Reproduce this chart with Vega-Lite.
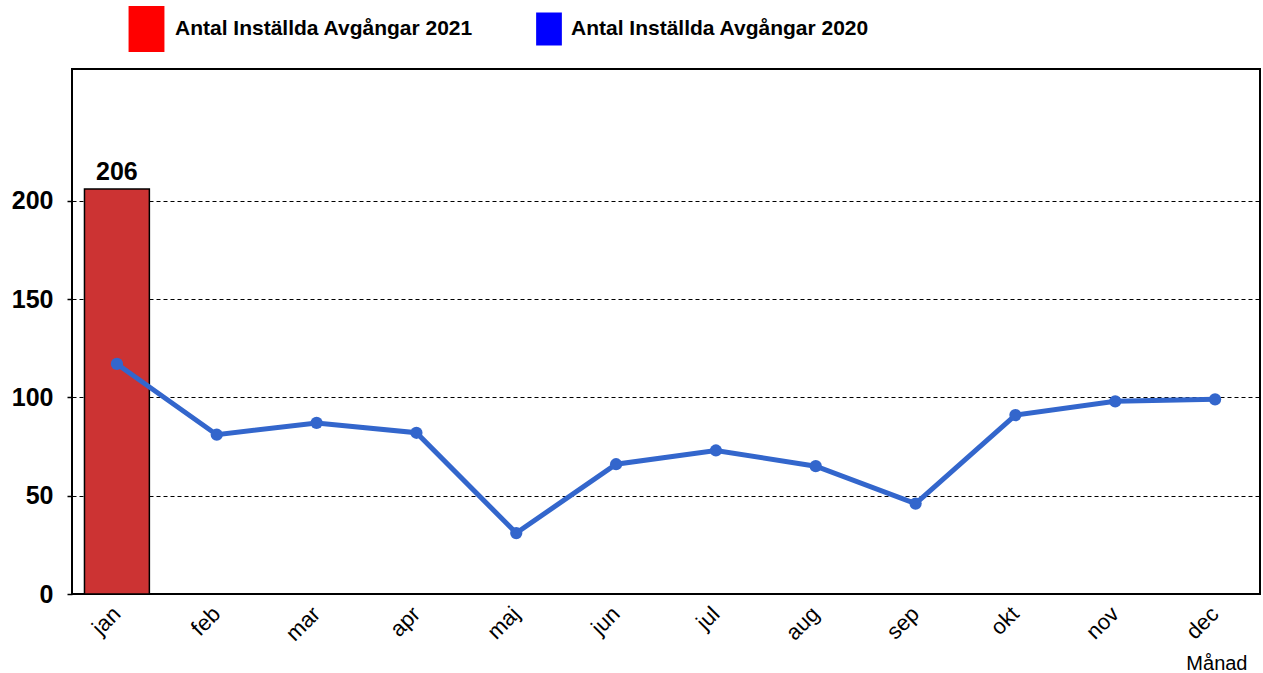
{
  "$schema": "https://vega.github.io/schema/vega-lite/v6.json",
  "width": 1188,
  "height": 525,
  "autosize": {"type": "none"},
  "padding": {"left": 72, "top": 69, "right": 3, "bottom": 79},
  "background": "white",
  "config": {
    "view": {"stroke": "black", "strokeWidth": 2},
    "font": "Liberation Sans",
    "legend": {
      "orient": "none",
      "legendX": 51.5,
      "legendY": -63,
      "direction": "horizontal",
      "padding": 0,
      "symbolType": "M-0.78,-1H0.78V1H-0.78Z",
      "symbolStrokeWidth": 0,
      "symbolOpacity": 1,
      "labelFont": "Liberation Sans",
      "labelFontSize": 21,
      "labelFontWeight": "bold",
      "labelColor": "black",
      "labelOffset": 5.5,
      "labelLimit": 500,
      "columnPadding": 59
    }
  },
  "data": {
    "values": [
      {"month": "jan", "serie": "Antal Inställda Avgångar 2021", "v": 206},
      {"month": "jan", "serie": "Antal Inställda Avgångar 2020", "v": 117},
      {"month": "feb", "serie": "Antal Inställda Avgångar 2020", "v": 81},
      {"month": "mar", "serie": "Antal Inställda Avgångar 2020", "v": 87},
      {"month": "apr", "serie": "Antal Inställda Avgångar 2020", "v": 82},
      {"month": "maj", "serie": "Antal Inställda Avgångar 2020", "v": 31},
      {"month": "jun", "serie": "Antal Inställda Avgångar 2020", "v": 66},
      {"month": "jul", "serie": "Antal Inställda Avgångar 2020", "v": 73},
      {"month": "aug", "serie": "Antal Inställda Avgångar 2020", "v": 65},
      {"month": "sep", "serie": "Antal Inställda Avgångar 2020", "v": 46},
      {"month": "okt", "serie": "Antal Inställda Avgångar 2020", "v": 91},
      {"month": "nov", "serie": "Antal Inställda Avgångar 2020", "v": 98},
      {"month": "dec", "serie": "Antal Inställda Avgångar 2020", "v": 99}
    ]
  },
  "encoding": {
    "x": {
      "field": "month",
      "type": "nominal",
      "sort": ["jan","feb","mar","apr","maj","jun","jul","aug","sep","okt","nov","dec"],
      "scale": {"paddingInner": 0.35, "paddingOuter": 0.125},
      "axis": {
        "title": "Månad",
        "titleFont": "Liberation Sans",
        "titleFontSize": 20,
        "titleFontWeight": "normal",
        "titleColor": "black",
        "titleAnchor": "end",
        "titleAlign": "right",
        "titleBaseline": "alphabetic",
        "titleX": 1175,
        "titleY": 75,
        "labelAngle": -45,
        "labelAlign": "right",
        "labelBaseline": "middle",
        "labelFont": "Liberation Sans",
        "labelFontSize": 22,
        "labelColor": "black",
        "labelPadding": 16,
        "labelDx": 11,
        "ticks": false,
        "domain": false,
        "grid": false
      }
    },
    "y": {
      "field": "v",
      "type": "quantitative",
      "scale": {"domain": [0, 267], "nice": false},
      "axis": {
        "title": null,
        "values": [0, 50, 100, 150, 200],
        "labelFont": "Liberation Sans",
        "labelFontSize": 25,
        "labelFontWeight": "bold",
        "labelColor": "black",
        "labelPadding": 14,
        "tickSize": 5,
        "tickColor": "black",
        "tickWidth": 1.5,
        "domain": false,
        "grid": true,
        "gridColor": "black",
        "gridDash": [4, 3],
        "gridWidth": 1,
        "gridOpacity": 1
      }
    }
  },
  "layer": [
    {
      "transform": [{"filter": "false"}],
      "mark": {"type": "square", "filled": true, "opacity": 1},
      "encoding": {
        "color": {
          "field": "serie",
          "type": "nominal",
          "scale": {
            "domain": ["Antal Inställda Avgångar 2021", "Antal Inställda Avgångar 2020"],
            "range": ["#ff0000", "#0000ff"]
          },
          "legend": {"title": null}
        },
        "size": {
          "field": "serie",
          "type": "nominal",
          "scale": {
            "domain": ["Antal Inställda Avgångar 2021", "Antal Inställda Avgångar 2020"],
            "range": [2116, 1089]
          },
          "legend": {"title": null}
        }
      }
    },
    {
      "transform": [{"filter": "datum.serie === 'Antal Inställda Avgångar 2021'"}],
      "mark": {"type": "bar", "fill": "#CC3333", "stroke": "black", "strokeWidth": 1.5, "opacity": 1}
    },
    {
      "transform": [{"filter": "datum.serie === 'Antal Inställda Avgångar 2021'"}],
      "mark": {"type": "text", "dy": -17, "fontSize": 25, "fontWeight": "bold", "font": "Liberation Sans", "color": "black"},
      "encoding": {"text": {"field": "v"}}
    },
    {
      "transform": [{"filter": "datum.serie === 'Antal Inställda Avgångar 2020'"}],
      "mark": {"type": "line", "color": "#3366CC", "strokeWidth": 5, "point": {"filled": true, "size": 150, "opacity": 1, "color": "#3366CC"}}
    }
  ]
}
